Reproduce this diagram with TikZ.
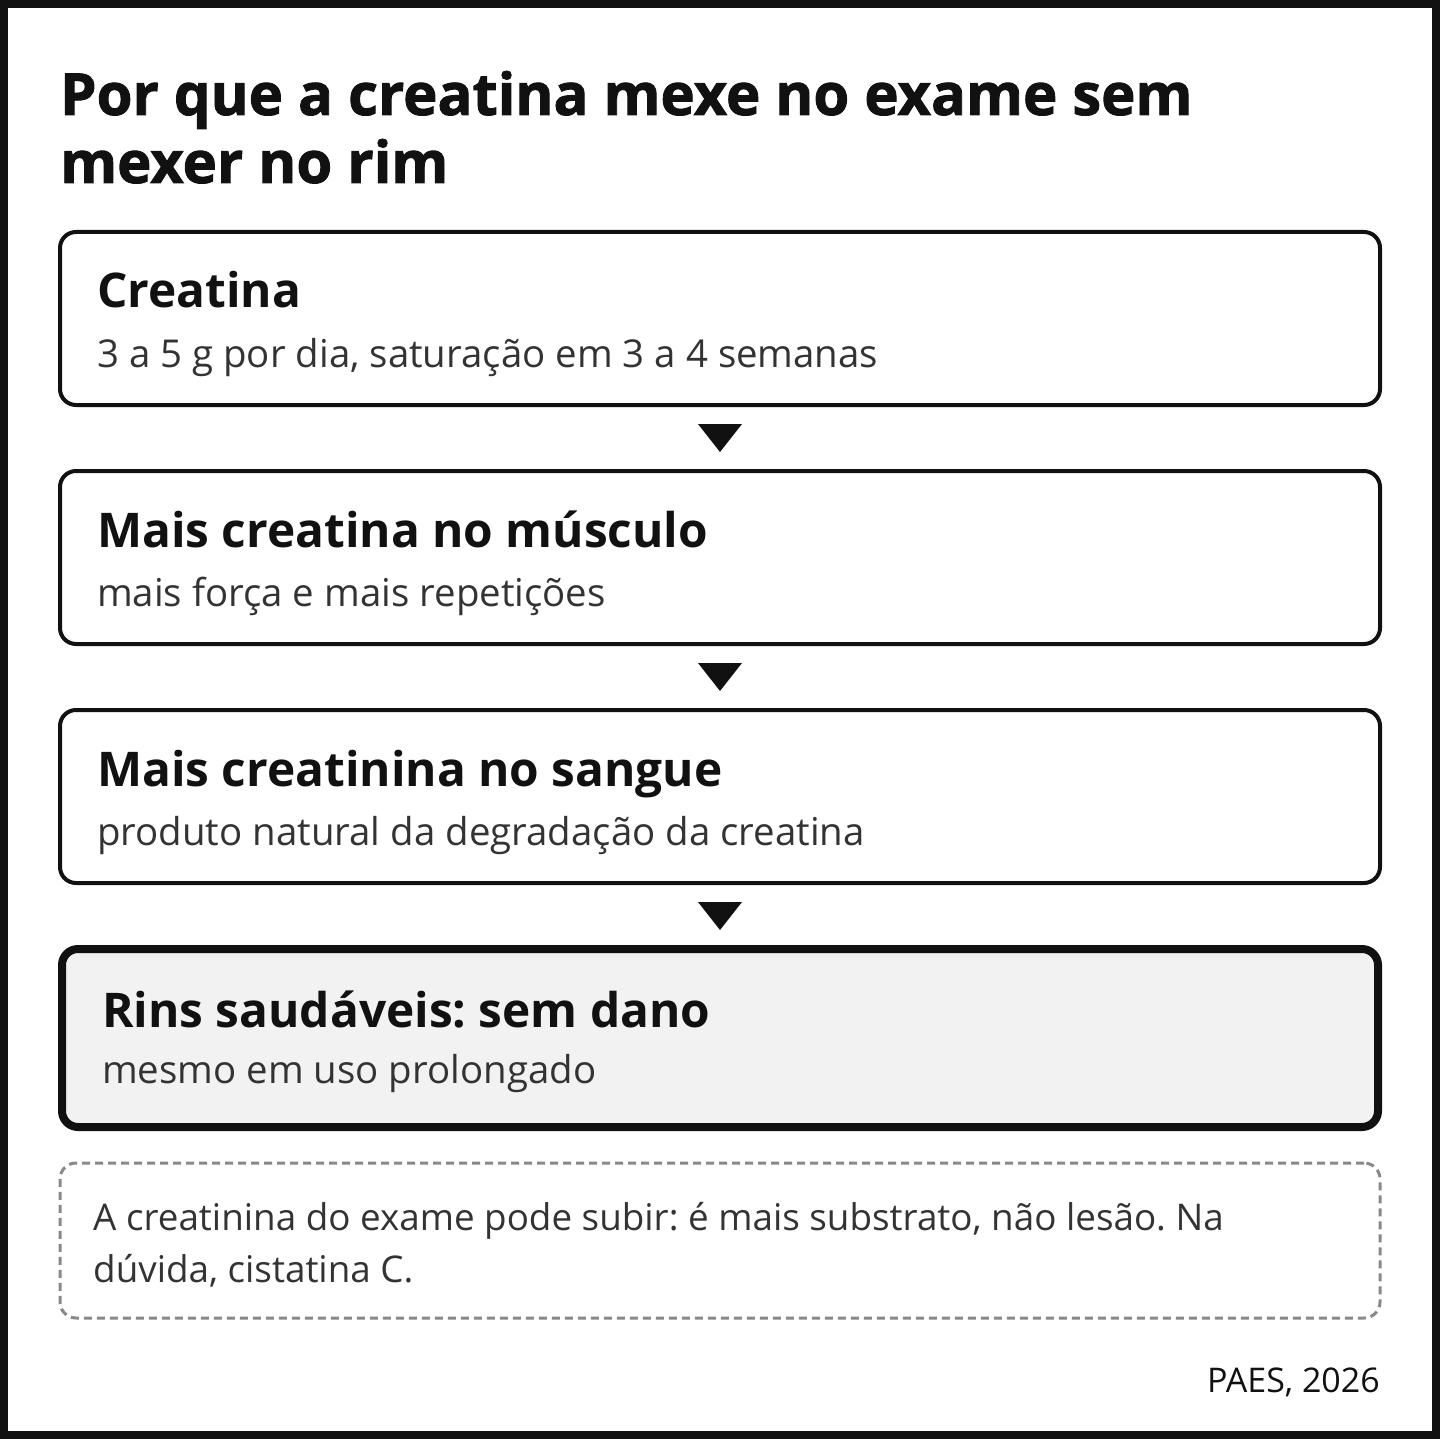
\documentclass[tikz,border=0pt]{standalone}
\usepackage{fontspec}
\setmainfont{Open Sans}
\newfontfamily\titlefont{Open Sans Bold}[FakeBold=1.5]
\usepackage{xcolor}
\usetikzlibrary{positioning, calc}
\frenchspacing

\definecolor{ink}{HTML}{111111}
\definecolor{soft}{HTML}{333333}
\definecolor{paper}{HTML}{F2F2F2}
\definecolor{notegray}{HTML}{888888}

\begin{document}
\begin{tikzpicture}[
    x=1pt, y=-1pt, node distance=66pt,
    stepbox/.style={rectangle, draw=ink, line width=4pt, rounded corners=16pt, minimum width=1320pt, minimum height=173pt, inner sep=0pt, outer sep=0pt},
    endbox/.style={stepbox, line width=8pt, fill=paper, minimum width=1316pt, minimum height=178pt},
    notebox/.style={rectangle, draw=notegray, line width=3pt, dash pattern=on 8pt off 5pt, rounded corners=16pt, minimum width=1320pt, minimum height=155pt, inner sep=0pt, outer sep=0pt},
    title/.style={anchor=base west, inner sep=0pt, text=ink, font=\titlefont\fontsize{58}{66}\selectfont},
    head/.style={anchor=base west, inner sep=0pt, text=ink, font=\fontsize{47.8}{58}\selectfont\bfseries},
    sub/.style={anchor=base west, inner sep=0pt, text=soft, font=\fontsize{38.4}{46}\selectfont},
    notetext/.style={sub, font=\fontsize{36.8}{46}\selectfont},
    credit/.style={anchor=base east, inner sep=0pt, text=ink, font=\fontsize{34}{40}\selectfont},
    pointer/.style={fill=ink}
    ]
    \useasboundingbox (0,0) rectangle (1440,1439);

    % Frame
    \draw[ink, line width=8pt] (4,4) rectangle (1436,1435);

    % Title
    \node (title1) [title] at (60,115) {Por que a creatina mexe no exame sem};
    \node (title2) [title] at (60,183) {mexer no rim};

    % Chain of steps
    \node (b1) [stepbox] at (720,318.5) {};
    \node (b2) [stepbox, below=of b1] {};
    \node (b3) [stepbox, below=of b2] {};
    \node (b4) [endbox, below=of b3] {};

    \node (h1) [head] at ($(b1.north west)+(37,76)$) {Creatina};
    \node (s1) [sub] at ($(b1.north west)+(37,135)$) {3 a 5 g por dia, saturação em 3 a 4 semanas};
    \node (h2) [head] at ($(b2.north west)+(37,76)$) {Mais creatina no músculo};
    \node (s2) [sub] at ($(b2.north west)+(37,135)$) {mais força e mais repetições};
    \node (h3) [head] at ($(b3.north west)+(37,76)$) {Mais creatinina no sangue};
    \node (s3) [sub] at ($(b3.north west)+(37,135)$) {produto natural da degradação da creatina};
    \node (h4) [head] at ($(b4.north west)+(40,78)$) {Rins saudáveis: sem dano};
    \node (s4) [sub] at ($(b4.north west)+(40,134)$) {mesmo em uso prolongado};

    % Arrow heads between steps
    \foreach \a/\b in {b1/b2, b2/b3, b3/b4}
        \fill[pointer] ($(\a.south)!0.5!(\b.north)$) ++(-22,-14) -- ++(44,0) -- ++(-22,28) -- cycle;

    % Note
    \node (note) [notebox, below=36pt of b4] {};
    \node (n1) [notetext] at ($(note.north west)+(33,67)$) {A creatinina do exame pode subir: é mais substrato, não lesão. Na};
    \node (n2) [notetext] at ($(note.north west)+(33,119)$) {dúvida, cistatina C.};

    % Source
    \node (src) [credit] at (1380,1392) {PAES, 2026};
\end{tikzpicture}
\end{document}
